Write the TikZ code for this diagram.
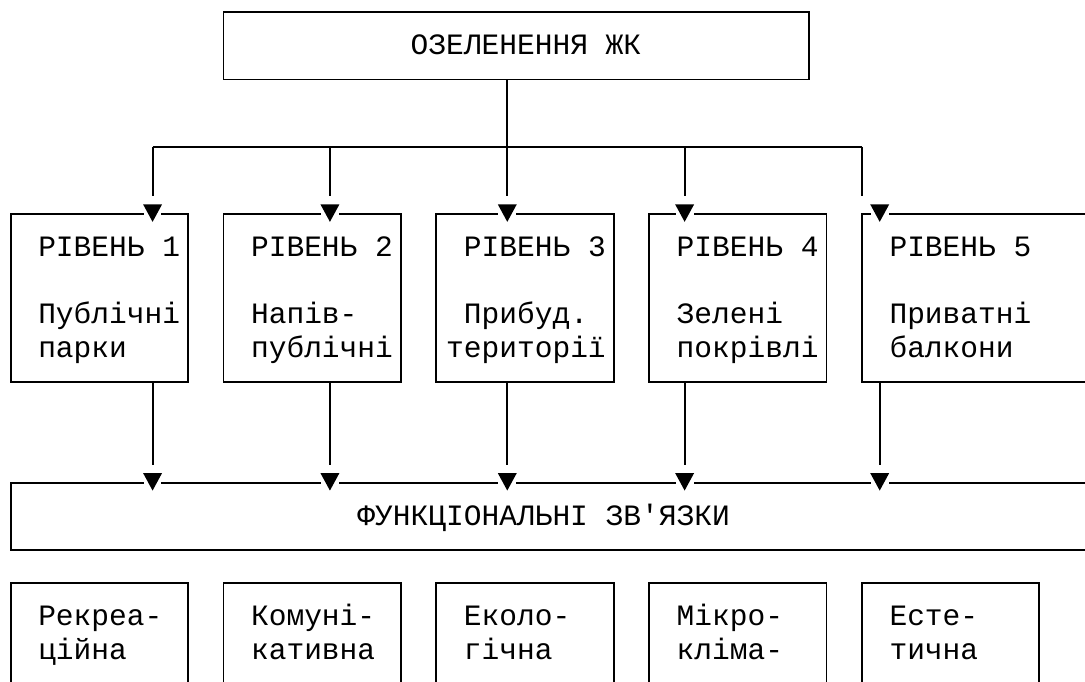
\documentclass[tikz,border=0pt]{standalone}
\usepackage{fontspec}
\setmonofont{Liberation Mono}
\newcommand\gx[1]{(10.7+17.735*(#1))}
\newcommand\gy[1]{(12.3+33.59*(#1))}
\newcommand\arrowmark[1]{%
  \fill[white] ([shift={(-8.87,-2.4)}]#1) rectangle ([shift={(8.87,2.4)}]#1);
  \fill ([shift={(-9.5,-9.5)}]#1) -- ++(19,0) -- ++(-9.5,17.5) -- cycle;}
\begin{document}
\begin{tikzpicture}[x=1pt,y=-1pt,line width=1.9pt,
  box/.style={draw,rectangle,inner sep=0pt,outer sep=0pt,anchor=north west},
  lbl/.style={anchor=base west,inner sep=0pt,font=\ttfamily\fontsize{29.55pt}{33pt}\selectfont},
  link/.style={draw,line width=1.9pt}]
\useasboundingbox (0,0) rectangle (1085,682);
\clip (0,0) rectangle (1085,682);
% boxes
\node[box,minimum width={17.735*33},minimum height={33.59*2}] (top) at ({\gx{12}},{\gy{0}}) {};
\node[box,minimum width={17.735*10},minimum height={33.59*5}] (l1) at ({\gx{0}},{\gy{6}}) {};
\node[box,minimum width={17.735*10},minimum height={33.59*5}] (l2) at ({\gx{12}},{\gy{6}}) {};
\node[box,minimum width={17.735*10},minimum height={33.59*5}] (l3) at ({\gx{24}},{\gy{6}}) {};
\node[box,minimum width={17.735*10},minimum height={33.59*5}] (l4) at ({\gx{36}},{\gy{6}}) {};
\node[box,minimum width={17.735*15},minimum height={33.59*5}] (l5) at ({\gx{48}},{\gy{6}}) {};
\node[box,minimum width={17.735*65},minimum height={33.59*2}] (fn) at ({\gx{0}},{\gy{14}}) {};
\node[box,minimum width={17.735*10},minimum height={33.59*4}] (f1) at ({\gx{0}},{\gy{17}}) {};
\node[box,minimum width={17.735*10},minimum height={33.59*4}] (f2) at ({\gx{12}},{\gy{17}}) {};
\node[box,minimum width={17.735*10},minimum height={33.59*4}] (f3) at ({\gx{24}},{\gy{17}}) {};
\node[box,minimum width={17.735*10},minimum height={33.59*4}] (f4) at ({\gx{36}},{\gy{17}}) {};
\node[box,minimum width={17.735*10},minimum height={33.59*4}] (f5) at ({\gx{48}},{\gy{17}}) {};
% branch points
\coordinate (b1) at ({\gx{8}},{\gy{4}});
\coordinate (b2) at ({\gx{18}},{\gy{4}});
\coordinate (b3) at ({\gx{28}},{\gy{4}});
\coordinate (b4) at ({\gx{38}},{\gy{4}});
\coordinate (b5) at ({\gx{48}},{\gy{4}});
% upper arrow points
\coordinate (a1) at ({\gx{8}},{\gy{6}});
\coordinate (a2) at ({\gx{18}},{\gy{6}});
\coordinate (a3) at ({\gx{28}},{\gy{6}});
\coordinate (a4) at ({\gx{38}},{\gy{6}});
\coordinate (a5) at ({\gx{49}},{\gy{6}});
% lower arrow points
\coordinate (d1) at ({\gx{8}},{\gy{14}});
\coordinate (d2) at ({\gx{18}},{\gy{14}});
\coordinate (d3) at ({\gx{28}},{\gy{14}});
\coordinate (d4) at ({\gx{38}},{\gy{14}});
\coordinate (d5) at ({\gx{49}},{\gy{14}});
% connectors
\draw[link] (top.south -| b3) -- (b3);
\draw[link] (b1) -- (b5);
\foreach \i/\a in {1/a1,2/a2,3/a3,4/a4,5/a5}{
  \draw[link] (b\i) -- ([yshift=17.5pt]b\i |- \a);
}
\foreach \i in {1,...,5}{
  \draw[link] (l\i.south -| d\i) -- ([yshift=17.5pt]d\i);
}
\foreach \p in {a1,a2,a3,a4,a5,d1,d2,d3,d4,d5}{\arrowmark{\p}}
% texts
\newcommand\txt[4]{\node[lbl] (#1) at ({\gx{#2}-8.87},{\gy{#3}+9}) {#4};}
\txt{t0}{23}{1}{ОЗЕЛЕНЕННЯ ЖК}
\txt{t11}{2}{7}{РІВЕНЬ 1}\txt{t12}{2}{9}{Публічні}\txt{t13}{2}{10}{парки}
\txt{t21}{14}{7}{РІВЕНЬ 2}\txt{t22}{14}{9}{Напів-}\txt{t23}{14}{10}{публічні}
\txt{t31}{26}{7}{РІВЕНЬ 3}\txt{t32}{26}{9}{Прибуд.}\txt{t33}{25}{10}{території}
\txt{t41}{38}{7}{РІВЕНЬ 4}\txt{t42}{38}{9}{Зелені}\txt{t43}{38}{10}{покрівлі}
\txt{t51}{50}{7}{РІВЕНЬ 5}\txt{t52}{50}{9}{Приватні}\txt{t53}{50}{10}{балкони}
\txt{tf}{20}{15}{ФУНКЦІОНАЛЬНІ ЗВ'ЯЗКИ}
\txt{u11}{2}{18}{Рекреа-}\txt{u12}{2}{19}{ційна}
\txt{u21}{14}{18}{Комуні-}\txt{u22}{14}{19}{кативна}
\txt{u31}{26}{18}{Еколо-}\txt{u32}{26}{19}{гічна}
\txt{u41}{38}{18}{Мікро-}\txt{u42}{38}{19}{кліма-}
\txt{u51}{50}{18}{Есте-}\txt{u52}{50}{19}{тична}
\end{tikzpicture}
\end{document}
